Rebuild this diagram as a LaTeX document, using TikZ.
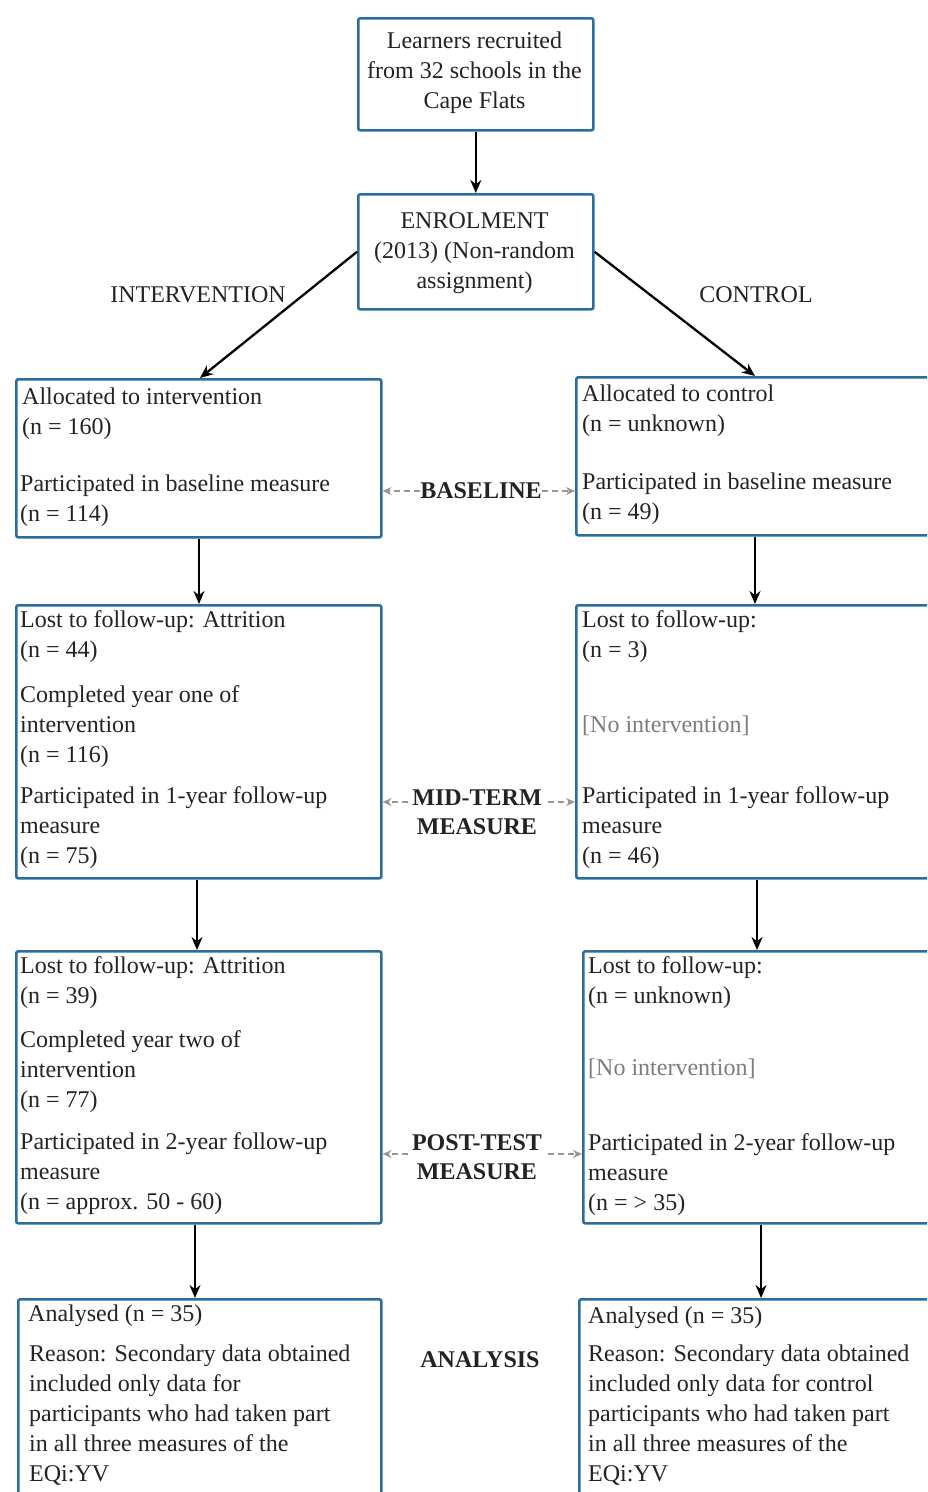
\documentclass[tikz,border=0pt]{standalone}
\usepackage{fontspec}
\setmainfont{Liberation Serif}
\usetikzlibrary{arrows.meta}
\definecolor{boxblue}{RGB}{42,110,160}
\definecolor{dgray}{RGB}{150,150,150}
\definecolor{textc}{RGB}{35,35,35}
\definecolor{notec}{RGB}{125,125,125}
\begin{document}
\begin{tikzpicture}[x=1pt,y=-1pt,
  box/.style={draw=boxblue, line width=2.6pt, rounded corners=2pt, fill=white, inner sep=0pt, anchor=north west},
  txt/.style={anchor=north west, inner sep=0pt, align=left, font=\fontsize{24}{30}\selectfont, text=textc},
  ctxt/.style={inner sep=0pt, align=center, font=\fontsize{24}{30}\selectfont, text=textc},
  lbl/.style={inner sep=0pt, align=center, font=\fontsize{24}{29}\selectfont\bfseries, text=textc},
  arr/.style={-{Stealth[length=13pt,width=11pt]}, line width=2.3pt, black},
  darr/.style={-{Stealth[length=9pt,width=8pt]}, line width=2.2pt, dgray, dash pattern=on 6pt off 4pt}]
\clip (0,0) rectangle (927,1492);
\fill[white] (0,0) rectangle (927,1492);

% boxes
\node[box, minimum width=235pt, minimum height=112pt] (top) at (357,17) {};
\node[box, minimum width=235pt, minimum height=115pt] (enrol) at (357,193) {};
\node[box, minimum width=365pt, minimum height=158pt] (la) at (15,378) {};
\node[box, minimum width=372pt, minimum height=158pt] (ra) at (575,376) {};
\node[box, minimum width=365pt, minimum height=273pt] (lm) at (15,604) {};
\node[box, minimum width=372pt, minimum height=273pt] (rm) at (575,604) {};
\node[box, minimum width=365pt, minimum height=272pt] (lp) at (15,950) {};
\node[box, minimum width=365pt, minimum height=272pt] (rp) at (582,950) {};
\node[box, minimum width=363pt, minimum height=215pt] (ln) at (17,1298) {};
\node[box, minimum width=369pt, minimum height=215pt] (rn) at (578,1298) {};

% box texts
\node[ctxt] (toptxt) at (474.5,73) {Learners recruited\\from 32 schools in the\\Cape Flats};
\node[ctxt] (enroltxt) at (474.5,253) {ENROLMENT\\(2013) (Non-random\\assignment)};

\node[txt] (la1) at (22,383) {\strut Allocated to intervention\\(n = 160)};
\node[txt] (la2) at (20,470) {\strut Participated in baseline measure\\(n = 114)};
\node[txt] (ra1) at (582,380) {\strut Allocated to control\\(n = unknown)};
\node[txt] (ra2) at (582,468) {\strut Participated in baseline measure\\(n = 49)};

\node[txt] (lm1) at (20,606) {\strut Lost to follow-up: Attrition\\(n = 44)};
\node[txt] (lm2) at (20,681) {\strut Completed year one of\\intervention\\(n = 116)};
\node[txt] (lm3) at (20,782) {\strut Participated in 1-year follow-up\\measure\\(n = 75)};
\node[txt] (rm1) at (582,606) {\strut Lost to follow-up:\\(n = 3)};
\node[txt, text=notec] (rm2) at (582,711) {\strut [No intervention]};
\node[txt] (rm3) at (582,782) {\strut Participated in 1-year follow-up\\measure\\(n = 46)};

\node[txt] (lp1) at (20,952) {\strut Lost to follow-up: Attrition\\(n = 39)};
\node[txt] (lp2) at (20,1026) {\strut Completed year two of\\intervention\\(n = 77)};
\node[txt] (lp3) at (20,1128) {\strut Participated in 2-year follow-up\\measure\\(n = approx. 50 - 60)};
\node[txt] (rp1) at (588,952) {\strut Lost to follow-up:\\(n = unknown)};
\node[txt, text=notec] (rp2) at (588,1054) {\strut [No intervention]};
\node[txt] (rp3) at (588,1129) {\strut Participated in 2-year follow-up\\measure\\(n = > 35)};

\node[txt] (ln1) at (28,1300) {\strut Analysed (n = 35)};
\node[txt] (ln2) at (29,1340) {\strut Reason: Secondary data obtained\\included only data for\\participants who had taken part\\in all three measures of the\\EQi:YV};
\node[txt] (rn1) at (588,1302) {\strut Analysed (n = 35)};
\node[txt] (rn2) at (588,1340) {\strut Reason: Secondary data obtained\\included only data for control\\participants who had taken part\\in all three measures of the\\EQi:YV};

% side labels
\node[ctxt] (intv) at (198,295) {INTERVENTION};
\node[ctxt] (ctrl) at (756,295) {CONTROL};

% phase labels
\node[lbl] (base) at (481,491) {BASELINE};
\node[lbl] (mid) at (477,812) {MID-TERM\\MEASURE};
\node[lbl] (post) at (477,1157) {POST-TEST\\MEASURE};
\node[lbl] (anal) at (480,1360) {ANALYSIS};

% helper coordinates
\coordinate (xa) at (200,0);
\coordinate (xb) at (755,0);
\coordinate (x1) at (199,0);
\coordinate (x2) at (755,0);
\coordinate (x3) at (197,0);
\coordinate (x4) at (757,0);
\coordinate (x5) at (195,0);
\coordinate (x6) at (761,0);
\coordinate (ml) at (408,802);
\coordinate (mr) at (548,802);
\coordinate (pl) at (408,1154);
\coordinate (pr) at (548,1154);

% connectors
\draw[arr] (top) -- (enrol);
\draw[arr] (enrol.west) -- (la.north -| xa);
\draw[arr] (enrol.east) -- (ra.north -| xb);
\draw[arr] (la.south -| x1) -- (lm.north -| x1);
\draw[arr] (ra.south -| x2) -- (rm.north -| x2);
\draw[arr] (lm.south -| x3) -- (lp.north -| x3);
\draw[arr] (rm.south -| x4) -- (rp.north -| x4);
\draw[arr] (lp.south -| x5) -- (ln.north -| x5);
\draw[arr] (rp.south -| x6) -- (rn.north -| x6);

% dashed phase arrows
\draw[darr] (base.west) -- (base.west -| la.east);
\draw[darr] (base.east) -- (base.east -| ra.west);
\draw[darr] (ml) -- (ml -| lm.east);
\draw[darr] (mr) -- (mr -| rm.west);
\draw[darr] (pl) -- (pl -| lp.east);
\draw[darr] (pr) -- (pr -| rp.west);
\end{tikzpicture}
\end{document}
